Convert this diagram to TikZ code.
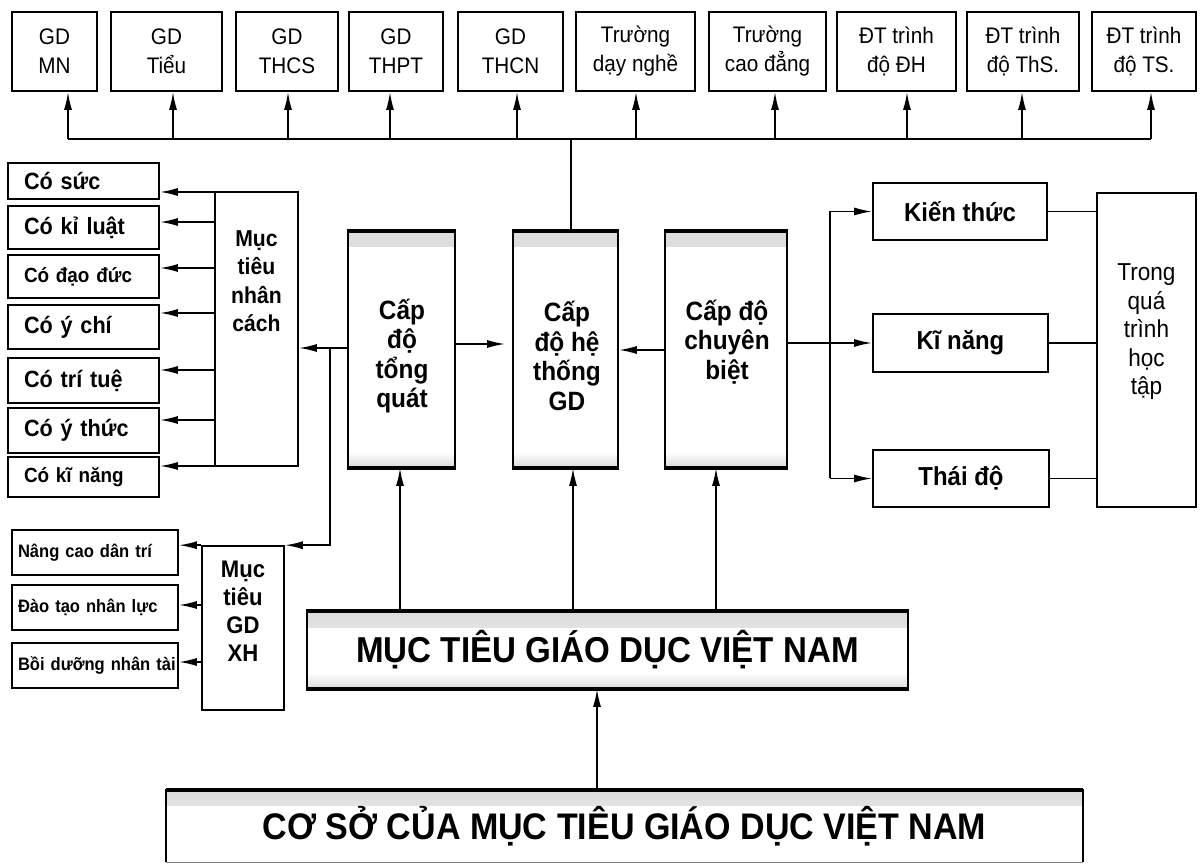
\documentclass[tikz,border=0pt]{standalone}
\usepackage{fontspec}
\setmainfont{Liberation Sans}[FakeStretch=0.92]
\usetikzlibrary{arrows.meta}
\begin{document}
\begin{tikzpicture}[x=1pt,y=-1pt,
  box/.style={draw, line width=1.6pt, inner sep=0pt, align=center},
  thickbox/.style={box, path picture={
     \shade[top color=gray!28, bottom color=white] (path picture bounding box.north west) rectangle ([yshift=-15pt]path picture bounding box.north east);
     \shade[bottom color=gray!28, top color=white] ([yshift=15pt]path picture bounding box.south west) rectangle (path picture bounding box.south east);}},
  lbox/.style={box, align=left, inner xsep=16pt},
  conn/.style={line width=1.8pt},
  arr/.style={line width=1.8pt, -{Latex[length=18pt,width=8pt]}},
  ftop/.style={font=\fontsize{22.5}{29}\selectfont},
  fleft/.style={font=\bfseries\fontsize{23.5}{28}\selectfont},
  fleftS/.style={font=\bfseries\fontsize{20.5}{24}\selectfont},
  fmid/.style={font=\bfseries\fontsize{23}{28.5}\selectfont},
  fxh/.style={font=\bfseries\fontsize{24}{28}\selectfont},
  fsoc/.style={font=\bfseries\fontsize{18}{22}\selectfont},
  fcap/.style={font=\bfseries\fontsize{26.5}{29.5}\selectfont},
  fright/.style={font=\bfseries\fontsize{26}{30}\selectfont},
  ftall/.style={font=\fontsize{24.5}{28.5}\selectfont},
  fbig/.style={font=\bfseries\fontsize{36}{40}\selectfont},
  fhuge/.style={font=\bfseries\fontsize{37}{42}\selectfont}
]
\useasboundingbox (0,0) rectangle (1200,866);

% ---------- top row ----------
\node[box, ftop, minimum width=85,  minimum height=79] (tMN)   at (54.5,51.5) {GD\\MN};
\node[box, ftop, minimum width=111, minimum height=79] (tTieu) at (166.5,51.5) {GD\\Tiểu};
\node[box, ftop, minimum width=102, minimum height=79] (tTHCS) at (287,51.5) {GD\\THCS};
\node[box, ftop, minimum width=94,  minimum height=79] (tTHPT) at (396,51.5) {GD\\THPT};
\node[box, ftop, minimum width=105, minimum height=79] (tTHCN) at (510.5,51.5) {GD\\THCN};
\node[box, ftop, minimum width=119, minimum height=79] (tNghe) at (635.5,51.5) {Trường\\dạy nghề};
\node[box, ftop, minimum width=117, minimum height=79] (tCD)   at (767.5,51.5) {Trường\\cao đẳng};
\node[box, ftop, minimum width=119, minimum height=79] (tDH)   at (896.5,51.5) {ĐT trình\\độ ĐH};
\node[box, ftop, minimum width=112, minimum height=79] (tThS)  at (1023,51.5) {ĐT trình\\độ ThS.};
\node[box, ftop, minimum width=104, minimum height=79] (tTS)   at (1144,51.5) {ĐT trình\\độ TS.};

% ---------- left column ----------
\node[lbox, fleft,  minimum width=151, minimum height=36, text width=119] (l1) at (83.5,181) {Có sức};
\node[lbox, fleft,  minimum width=151, minimum height=43, text width=119] (l2) at (83.5,227.5) {Có kỉ luật};
\node[lbox, fleftS, minimum width=151, minimum height=43, text width=119] (l3) at (83.5,276.5) {Có đạo đức};
\node[lbox, fleft,  minimum width=151, minimum height=44, text width=119] (l4) at (83.5,327) {Có ý chí};
\node[lbox, fleft,  minimum width=151, minimum height=45, text width=119] (l5) at (83.5,380.5) {Có trí tuệ};
\node[lbox, fleft,  minimum width=151, minimum height=45, text width=119] (l6) at (83.5,430.5) {Có ý thức};
\node[lbox, fleftS, minimum width=151, minimum height=40, text width=119] (l7) at (83.5,477) {Có kĩ năng};

\node[box, minimum width=83, minimum height=274] (mnc) at (256.5,329) {};
\node[fmid, align=center] (mnct) at (256.5,281) {Mục\\tiêu\\nhân\\cách};

\node[lbox, fsoc, inner xsep=6pt, minimum width=166, minimum height=45, text width=154] (s1) at (95,552.5) {\mbox{Nâng cao dân trí}};
\node[lbox, fsoc, inner xsep=6pt, minimum width=166, minimum height=45, text width=154] (s2) at (95,607.5) {\mbox{Đào tạo nhân lực}};
\node[lbox, fsoc, inner xsep=6pt, minimum width=166, minimum height=45, text width=154] (s3) at (95,665.5) {\mbox{Bồi dưỡng nhân tài}};

\node[box, minimum width=82, minimum height=164] (xh) at (243,628) {};
\node[fxh, align=center] (xht) at (243,611) {Mục\\tiêu\\GD\\XH};

% ---------- middle ----------
\node[thickbox, minimum width=107, minimum height=235] (tq) at (401.5,349.5) {};
\node[thickbox, minimum width=105, minimum height=235] (ht) at (565.5,349.5) {};
\node[thickbox, minimum width=122, minimum height=235] (cb) at (726,349.5) {};
\node[fcap, align=center] (tqt) at (402,356) {Cấp\\độ\\tổng\\quát};
\node[fcap, align=center] (htt) at (567,356) {Cấp\\độ hệ\\thống\\GD};
\node[fcap, align=center] (cbt) at (727,342) {Cấp độ\\chuyên\\biệt};

% ---------- right ----------
\node[box, fright, minimum width=174, minimum height=57] (kt) at (960,211.5) {Kiến thức};
\node[box, fright, minimum width=175, minimum height=58] (kn) at (960.5,343) {Kĩ năng};
\node[box, fright, minimum width=176, minimum height=57] (td) at (961,478.5) {Thái độ};
\node[box, minimum width=99, minimum height=314] (tall) at (1146.5,350) {};
\node[ftall, align=center] (tallt) at (1146.5,332) {Trong\\quá\\trình\\học\\tập};

% ---------- bottom ----------
\node[thickbox, fbig, minimum width=601, minimum height=76] (mt) at (607.5,650) {MỤC TIÊU GIÁO DỤC VIỆT NAM};
\node[inner sep=0pt, fhuge, minimum width=917, minimum height=72,
      path picture={\shade[top color=gray!28, bottom color=white] (path picture bounding box.north west) rectangle ([yshift=-15pt]path picture bounding box.north east);}] (cs) at (624.5,826) {CƠ SỞ CỦA MỤC TIÊU GIÁO DỤC VIỆT NAM};
\draw[line width=1.6pt] (cs.south west) -- (cs.north west) -- (cs.north east) -- (cs.south east);
\draw[line width=1pt, gray] (cs.south west) -- (cs.south east);

% thick edges
\foreach \n in {tq,ht,cb,mt}{
  \draw[line width=3.5pt] (\n.north west) -- (\n.north east);
  \draw[line width=3.5pt] (\n.south west) -- (\n.south east);
}
\draw[line width=3.5pt] (cs.north west) -- (cs.north east);

% ---------- connectors: top bus ----------
\coordinate (bus) at (571,139);
\coordinate (busL) at (68,139);
\coordinate (busR) at (1151,139);
\draw[conn] (bus |- ht.north) -- (bus);
\draw[conn] (busL) -- (busR);
\foreach \n/\x in {tMN/68,tTieu/173,tTHCS/288,tTHPT/390,tTHCN/517,tNghe/636,tCD/775,tDH/907,tThS/1022,tTS/1151}{
  \coordinate (b\n) at (\x,139);
  \draw[arr] (b\n) -- (b\n |- \n.south);
}

% ---------- connectors: left ----------
\foreach \n/\y in {l1/192,l2/222,l3/268,l4/313,l5/370,l6/420,l7/466}{
  \coordinate (y\n) at (0,\y);
  \draw[arr] (mnc.west |- y\n) -- (\n.east |- y\n);
}
\coordinate (jn) at (330,348);
\draw[arr] (tq.west |- jn) -- (mnc.east |- jn);
\draw[arr] (jn) |- (xh.north east);
\coordinate (ys2) at (0,605);
\coordinate (ys3) at (0,662);
\draw[arr] (xh.north west) -- (s1.east |- xh.north west);
\draw[arr] (xh.west |- ys2) -- (s2.east |- ys2);
\draw[arr] (xh.west |- ys3) -- (s3.east |- ys3);

% ---------- connectors: middle ----------
\coordinate (ya) at (0,344);
\coordinate (yb) at (0,350);
\draw[arr, shorten >=7pt] (tq.east |- ya) -- (ht.west |- ya);
\draw[arr] (cb.west |- yb) -- (ht.east |- yb);
\coordinate (u1) at (400,0);
\coordinate (u2) at (573,0);
\coordinate (u3) at (716,0);
\coordinate (u4) at (597,0);
\draw[arr] (mt.north -| u1) -- (tq.south -| u1);
\draw[arr] (mt.north -| u2) -- (ht.south -| u2);
\draw[arr] (mt.north -| u3) -- (cb.south -| u3);
\draw[arr] (cs.north -| u4) -- (mt.south -| u4);

% ---------- connectors: right ----------
\coordinate (v) at (830,0);
\draw[conn] (v |- kt.west) -- (v |- td.west);
\draw[arr] (cb.east |- kn.west) -- (kn.west);
\draw[arr] (v |- kt.west) -- (kt.west);
\draw[arr] (v |- td.west) -- (td.west);
\draw[conn] (kt.east) -- (kt.east -| tall.west);
\draw[conn] (kn.east) -- (kn.east -| tall.west);
\draw[conn] (td.east) -- (td.east -| tall.west);
\end{tikzpicture}
\end{document}
